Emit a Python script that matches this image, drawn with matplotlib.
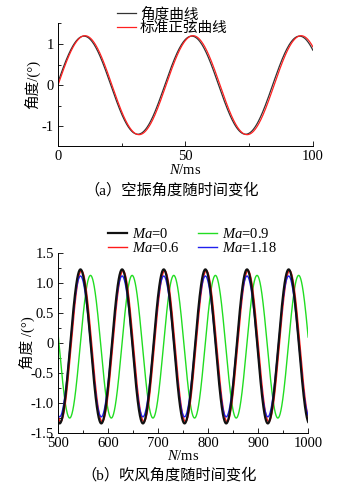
import matplotlib
matplotlib.use("Agg")
import matplotlib.pyplot as plt
import numpy as np
from matplotlib.ticker import MultipleLocator, FuncFormatter

plt.rcParams["font.family"] = ["Liberation Serif", "Noto Sans CJK SC"]
plt.rcParams["axes.unicode_minus"] = False
plt.rcParams["mathtext.fontset"] = "custom"
plt.rcParams["mathtext.it"] = "Liberation Serif:italic"
plt.rcParams["mathtext.rm"] = "Liberation Serif"

# (a) 空振: sine parameters
a_labels = ["角度曲线", "标准正弦曲线"]
a_colors = ["#333333", "#ff2020"]
a_amp = [1.19, 1.20]          # amplitude (°)
a_period = [42.3, 42.4]       # ms
a_phase = [-0.4, 0.0]         # time shift (ms)
a_offset = [0.0, 0.0]
a_t = np.linspace(0, 100, 600)

# (b) 吹风: sine parameters
b_labels = [r"$\mathit{Ma}$=0", r"$\mathit{Ma}$=0.6", r"$\mathit{Ma}$=0.9", r"$\mathit{Ma}$=1.18"]
b_colors = ["#111111", "#ff1a1a", "#22dd22", "#2020ee"]
b_widths = [1.6, 1.0, 1.0, 1.0]
b_peak = [1.23, 1.21, 1.13, 1.12]
b_trough = [-1.34, -1.31, -1.25, -1.23]
b_first_peak = [545.0, 547.0, 565.0, 545.0]
b_period = 83.2
b_t = np.linspace(500, 1000, 1500)

fig = plt.figure(figsize=(3.6, 4.86), dpi=100)
fs = 10.5

def style(ax):
    for s in ["top", "right"]:
        ax.spines[s].set_visible(False)
    ax.tick_params(which="both", direction="in", labelsize=fs, pad=3)
    ax.tick_params(which="major", length=3.5, width=0.6)
    ax.tick_params(which="minor", length=2, width=0.6)
    for s in ["left", "bottom"]:
        ax.spines[s].set_linewidth(0.7)

# ---- panel (a)
ax1 = fig.add_axes([0.161, 0.700, 0.708, 0.252])
for i in range(2):
    y = a_offset[i] + a_amp[i] * np.sin(2 * np.pi * (a_t - a_phase[i]) / a_period[i])
    ax1.plot(a_t, y, color=a_colors[i], lw=0.9, label=a_labels[i])
ax1.set_xlim(0, 100)
ax1.set_ylim(-1.47, 1.5)
ax1.xaxis.set_major_locator(MultipleLocator(50))
ax1.xaxis.set_minor_locator(MultipleLocator(25))
ax1.yaxis.set_major_locator(MultipleLocator(1))
ax1.yaxis.set_minor_locator(MultipleLocator(0.5))
style(ax1)
ax1.set_xlabel(r"$\mathit{N}$/ms", fontsize=fs, labelpad=0)
ax1.set_ylabel("角度/(°)", fontsize=fs, labelpad=1)
fig.legend(*ax1.get_legend_handles_labels(), loc="upper left", bbox_to_anchor=(0.308, 0.997),
           frameon=False, fontsize=fs, handlelength=1.3, handletextpad=0.3,
           labelspacing=0.0, borderaxespad=0)
fig.text(0.477, 0.609, "（a）空振角度随时间变化", ha="center", va="center", fontsize=11)

# ---- panel (b)
ax2 = fig.add_axes([0.161, 0.109, 0.695, 0.370])
order = [2, 1, 3, 0]
handles = {}
for i in order:
    mid = (b_peak[i] + b_trough[i]) / 2
    amp = (b_peak[i] - b_trough[i]) / 2
    y = mid + amp * np.cos(2 * np.pi * (b_t - b_first_peak[i]) / b_period)
    handles[i], = ax2.plot(b_t, y, color=b_colors[i], lw=b_widths[i], label=b_labels[i])
ax2.set_xlim(500, 1000)
ax2.set_ylim(-1.5, 1.5)
ax2.xaxis.set_major_locator(MultipleLocator(100))
ax2.xaxis.set_minor_locator(MultipleLocator(50))
ax2.yaxis.set_major_locator(MultipleLocator(0.5))
ax2.yaxis.set_minor_locator(MultipleLocator(0.25))
ax2.yaxis.set_major_formatter(FuncFormatter(lambda v, p: "0" if abs(v) < 1e-9 else f"{v:.1f}"))
style(ax2)
ax2.set_xlabel(r"$\mathit{N}$/ms", fontsize=fs, labelpad=-1)
ax2.set_ylabel("角度 /(°)", fontsize=fs, labelpad=-3)
fig.legend([handles[i] for i in range(4)], b_labels, loc="upper left", ncol=2,
           bbox_to_anchor=(0.285, 0.545), frameon=False, fontsize=fs, handlelength=1.3,
           handletextpad=0.3, labelspacing=0.0, columnspacing=1.3, borderaxespad=0)
fig.text(0.47, 0.023, "（b）吹风角度随时间变化", ha="center", va="center", fontsize=11)

fig.savefig("out.png", dpi=100, facecolor="white")
